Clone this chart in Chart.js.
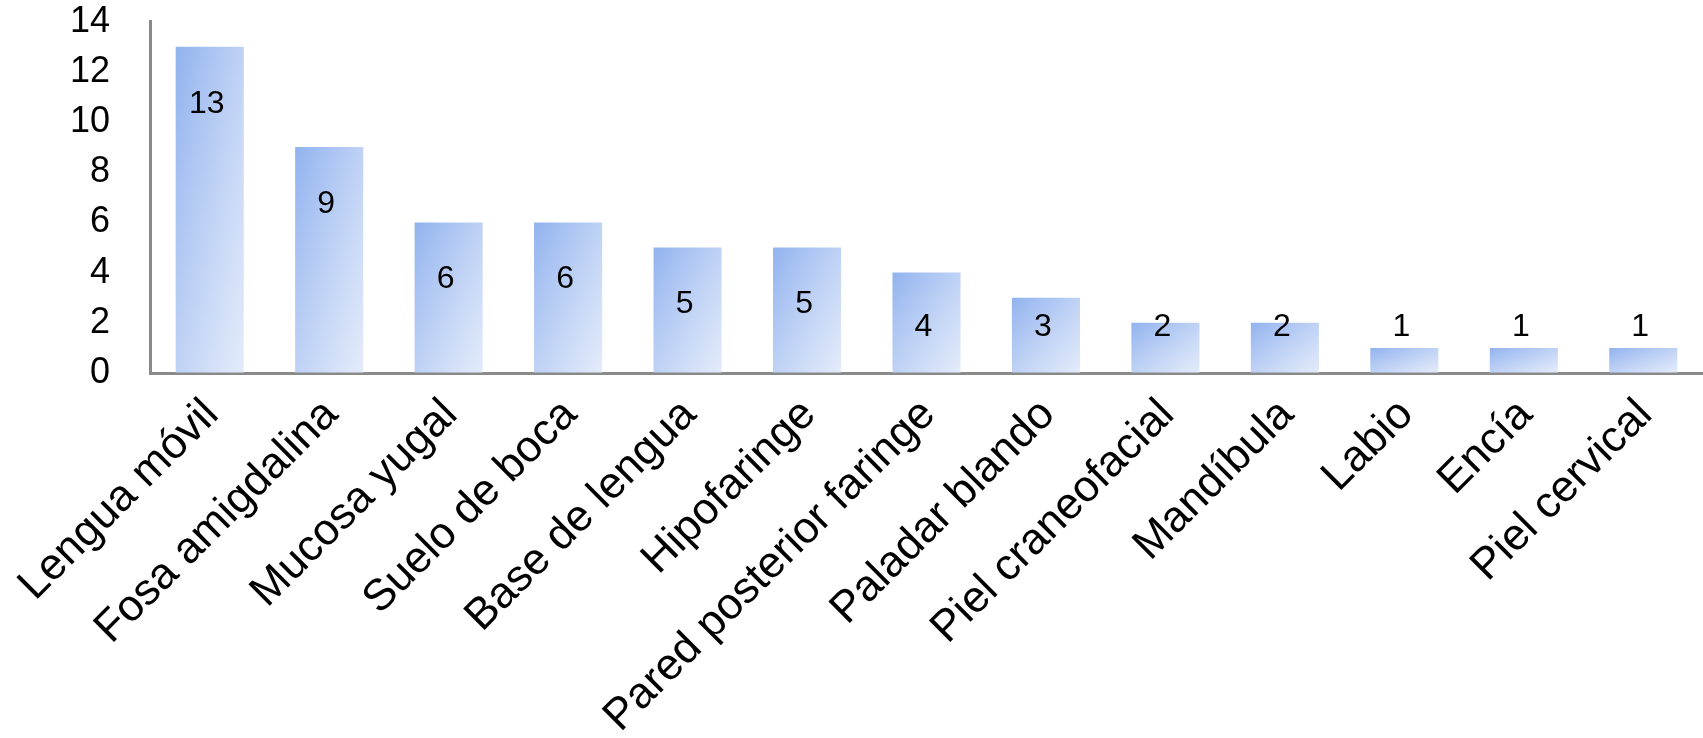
<!DOCTYPE html>
<html>
<head>
<meta charset="utf-8">
<script src="https://cdn.jsdelivr.net/npm/chart.js@4"></script>
<style>
  body { margin: 0; background: #fff; }
</style>
</head>
<body>
<canvas id="sitesChart" width="1703" height="738"></canvas>
<script>
// Localizaciones del tumor primario
const sites = ['Lengua móvil', 'Fosa amigdalina', 'Mucosa yugal', 'Suelo de boca', 'Base de lengua',
  'Hipofaringe', 'Pared posterior faringe', 'Paladar blando', 'Piel craneofacial', 'Mandíbula',
  'Labio', 'Encía', 'Piel cervical'];
const cases = [13, 9, 6, 6, 5, 5, 4, 3, 2, 2, 1, 1, 1];
const yTicks = [0, 2, 4, 6, 8, 10, 12, 14];

const barPct = 0.57;
const axisColor = '#8a8a8a';
const fontFamily = '"Liberation Sans", Arial, Helvetica, sans-serif';

// gradient across the bar's own diagonal (dark top-left, light bottom-right)
function barFill(c) {
  const chart = c.chart;
  const xs = chart.scales.x, ys = chart.scales.y;
  if (!xs || !ys || !chart.chartArea || c.type !== 'data') return '#bccff4';
  const cx = xs.getPixelForValue(c.dataIndex);
  const w = (xs.width / sites.length) * barPct;
  const top = ys.getPixelForValue(c.raw);
  const h = Math.max(1, ys.getPixelForValue(0) - top);
  const x0 = cx - w / 2;
  const k = 2 * w * h / (w * w + h * h);
  const g = chart.ctx.createLinearGradient(x0, top, x0 + h * k, top + w * k);
  g.addColorStop(0, '#92b3ef');
  g.addColorStop(0.5, '#bfd2f5');
  g.addColorStop(1, '#e4ecfa');
  return g;
}

// value labels: inside the bar near the top, never lower than a fixed line
const valueLabels = {
  id: 'valueLabels',
  afterDatasetsDraw(chart) {
    const ctx = chart.ctx;
    const ys = chart.scales.y;
    const floorY = ys.getPixelForValue(0) - 46;
    ctx.save();
    ctx.font = '32px ' + fontFamily;
    ctx.fillStyle = '#000';
    ctx.textAlign = 'center';
    ctx.textBaseline = 'middle';
    chart.getDatasetMeta(0).data.forEach((bar, i) => {
      const y = Math.min(bar.y + 57, floorY);
      ctx.fillText(String(cases[i]), bar.x - 3, y);
    });
    ctx.restore();
  }
};

new Chart(document.getElementById('sitesChart').getContext('2d'), {
  type: 'bar',
  data: {
    labels: sites,
    datasets: [{
      data: cases,
      backgroundColor: barFill,
      borderWidth: 0,
      barPercentage: barPct,
      categoryPercentage: 1
    }]
  },
  options: {
    responsive: false,
    animation: false,
    events: [],
    layout: { padding: 0 },
    plugins: { legend: { display: false }, tooltip: { enabled: false } },
    scales: {
      x: {
        offset: true,
        grid: { display: false, drawTicks: false },
        border: { display: true, color: axisColor, width: 3 },
        ticks: {
          autoSkip: false,
          maxRotation: 45,
          minRotation: 45,
          padding: 16,
          labelOffset: 2,
          color: '#000',
          font: { family: fontFamily, size: 44 }
        },
        afterFit(scale) { scale.height = 365; }
      },
      y: {
        min: 0,
        max: 14,
        afterBuildTicks(scale) { scale.ticks = yTicks.map(v => ({ value: v })); },
        // invisible tick marks push the labels away from the axis
        grid: { display: true, drawOnChartArea: false, drawTicks: true, tickLength: 40, tickColor: 'rgba(0,0,0,0)' },
        border: { display: true, color: axisColor, width: 3 },
        ticks: {
          autoSkip: false,
          padding: 0,
          color: '#000',
          font: { family: fontFamily, size: 36 }
        },
        afterFit(scale) { scale.width = 150; }
      }
    }
  },
  plugins: [valueLabels]
});
</script>
</body>
</html>
